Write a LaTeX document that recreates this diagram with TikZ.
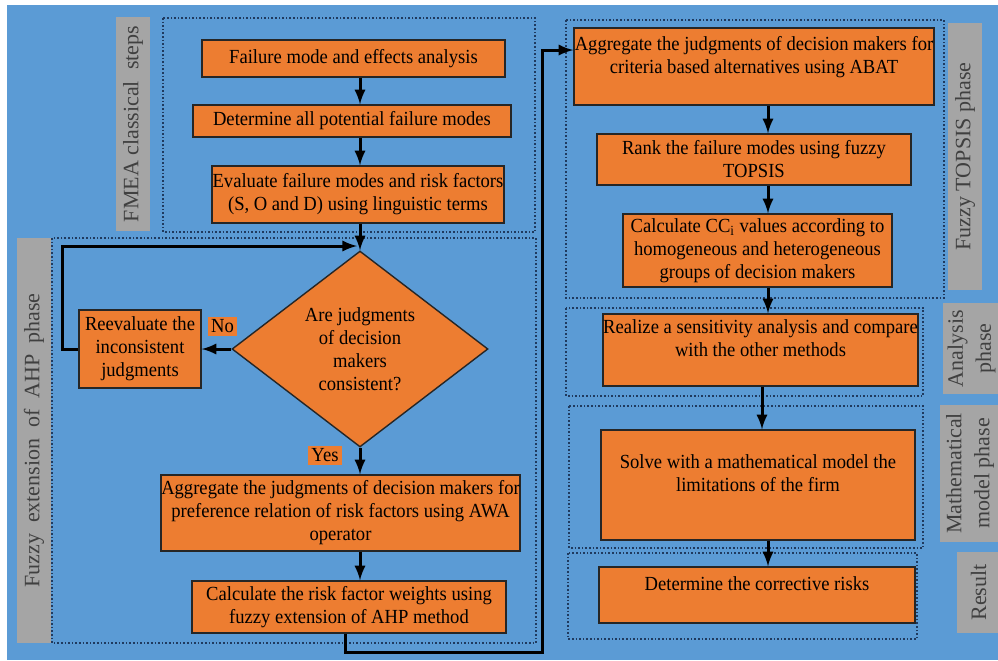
\documentclass[tikz,border=0pt]{standalone}
\usepackage{fontspec}
\setmainfont{Liberation Serif}[FakeStretch=0.93]
\newfontfamily\phasefont{Liberation Serif}
\usetikzlibrary{arrows, calc, shapes.geometric}

\definecolor{bgblue}{HTML}{5B9BD5}
\definecolor{boxorange}{HTML}{ED7D31}
\definecolor{phasegray}{HTML}{A5A5A5}
\definecolor{dotnavy}{HTML}{1F3A5F}

\tikzset{
  box/.style={draw=black!85, fill=boxorange, line width=0.7pt, inner sep=0pt,
    align=center, font=\fontsize{10}{11.5}\selectfont},
  boxsize/.style 2 args={minimum width=#1*0.5pt, minimum height=#2*0.5pt},
  tag/.style={fill=boxorange, inner sep=1.5pt, font=\fontsize{10}{11.5}\selectfont},
  phase/.style={fill=phasegray, rotate=90, inner sep=0pt, align=center,
    text=black!75, font=\phasefont\fontsize{11}{14}\selectfont},
  group/.style={draw=dotnavy, densely dotted, line width=0.8pt},
  flow/.style={-latex, line width=1.5pt},
}

\begin{document}
\begin{tikzpicture}[x=0.5pt, y=-0.5pt]
    \useasboundingbox (0,0) rectangle (998,660);
    \fill[bgblue] (7,5) rectangle (998,660);

    % phase frames
    \draw[group] (163,18) rectangle (535,232);
    \draw[group] (52,238) rectangle (536,643);
    \draw[group] (566,20) rectangle (944,298);
    \draw[group] (566,308) rectangle (923,396);
    \draw[group] (569,406) rectangle (923,548);
    \draw[group] (568,553) rectangle (917,639);

    % phase labels
    \node[phase, boxsize={214}{34}] (lfmea) at (133,124) {FMEA classical\ \ steps};
    \node[phase, boxsize={405}{34}] (lahp) at (34,440.5) {Fuzzy\ \ extension\ \ of\ \ AHP\ \ phase};
    \node[phase, boxsize={267}{34}] (ltop) at (965,156.5) {Fuzzy\ TOPSIS phase};
    \node[phase, boxsize={91}{57}] (lana) at (971.5,348.5) {Analysis\\phase};
    \node[phase, boxsize={137}{60}] (lmath) at (970,473.5) {Mathematical\\model phase};
    \node[phase, boxsize={81}{43}] (lres) at (978.5,592.5) {Result};

    % FMEA classical steps
    \node[box, boxsize={303}{37}] (fma) at (353.5,58.5) {Failure mode and effects analysis};
    \node[box, boxsize={318}{32}] (dfm) at (352,121) {Determine all potential failure modes};
    \node[box, boxsize={292}{57}] (evl) at (358,194.5) {Evaluate failure modes and risk factors\\(S, O and D) using linguistic\ terms};

    % fuzzy AHP
    \node[box, diamond, minimum width=128pt, minimum height=98pt] (dec) at (360,349)
        {Are judgments\\of decision\\makers\\consistent?};
    \node[box, boxsize={122}{78}] (reev) at (140,349) {Reevaluate the\\inconsistent\\judgments};
    \node[box, boxsize={359}{76}] (awa) at (340.5,513) {Aggregate the judgments of decision makers for\\preference relation of risk factors using AWA\\operator};
    \node[box, boxsize={314}{52}] (crw) at (349,607) {Calculate the risk factor weights using\\fuzzy extension of AHP method};
    \node[tag] (no) at (222.5,326.5) {No};
    \node[tag] (yes) at (325,455.5) {Yes};

    % fuzzy TOPSIS, analysis, model, result
    \node[box, boxsize={360}{77}] (abat) at (754,66.5) {Aggregate the judgments of decision makers for\\criteria based alternatives using ABAT\\ ~};
    \node[box, boxsize={314}{51}] (rank) at (754,159.5) {Rank the failure modes using fuzzy\\TOPSIS};
    \node[box, boxsize={269}{73}] (cci) at (757.5,250.5) {Calculate CC\textsubscript{i} values according to\\homogeneous and heterogeneous\\groups of decision makers};
    \node[box, boxsize={315}{72}] (sens) at (760.5,350) {Realize a sensitivity\ analysis and compare\\with the other methods\\ ~};
    \node[box, boxsize={314}{110}] (solve) at (758,485) {Solve with a mathematical model the\\limitations of the firm\\ ~};
    \node[box, boxsize={316}{56}] (corr) at (757,595) {Determine the corrective risks\\ ~};

    \coordinate (spine) at (360,0);
    \coordinate (rspine) at (768,0);
    \coordinate (merge) at (357,246);

    \foreach \a/\b in {fma/dfm, dfm/evl, evl/dec, dec/awa, awa/crw}
        \draw[flow] (\a.south -| spine) -- (\b.north -| spine);
    \foreach \a/\b in {abat/rank, rank/cci, cci/sens, solve/corr}
        \draw[flow] (\a.south -| rspine) -- (\b.north -| rspine);
    \draw[flow] (sens.south -| 762,0) -- (solve.north -| 762,0);

    \draw[flow] (dec.west) -- (reev.east);
    \draw[flow] (reev.west) -- (reev.west -| 62,0) |- (merge);
    \draw[flow] (crw.south -| 345,0) |- (542,652)
        |- ($(abat.north west)!0.29!(abat.south west)$);
\end{tikzpicture}
\end{document}
